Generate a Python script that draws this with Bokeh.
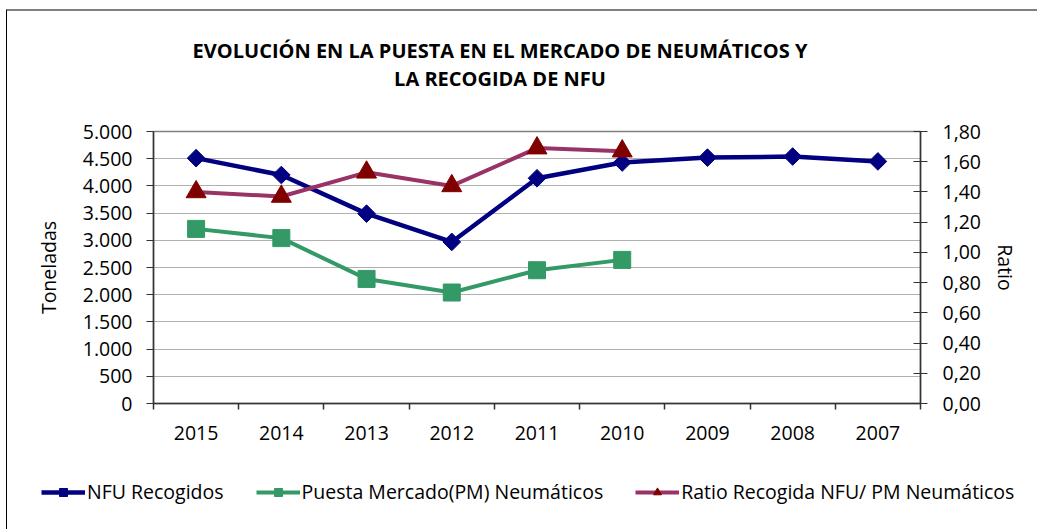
import math
from bokeh.plotting import figure
from bokeh.layouts import column
from bokeh.models import Range1d, LinearAxis, FixedTicker, Label, Legend, LegendItem
from bokeh.embed import file_html
from bokeh.resources import INLINE

# ---- data ----
years = ["2015", "2014", "2013", "2012", "2011", "2010", "2009", "2008", "2007"]
nfu_recogidos = [4510, 4200, 3490, 2970, 4140, 4430, 4520, 4540, 4450]
puesta_mercado = [3210, 3040, 2290, 2040, 2450, 2640]
ratio = [1.40, 1.37, 1.53, 1.44, 1.69, 1.67]

left_ticks = [0, 500, 1000, 1500, 2000, 2500, 3000, 3500, 4000, 4500, 5000]
left_tick_labels = ["0", "500", "1.000", "1.500", "2.000", "2.500", "3.000",
                    "3.500", "4.000", "4.500", "5.000"]
right_ticks = [0.0, 0.2, 0.4, 0.6, 0.8, 1.0, 1.2, 1.4, 1.6, 1.8]
right_tick_labels = ["0,00", "0,20", "0,40", "0,60", "0,80", "1,00", "1,20",
                     "1,40", "1,60", "1,80"]

title_lines = ["EVOLUCIÓN EN LA PUESTA EN EL MERCADO DE NEUMÁTICOS Y",
               "LA RECOGIDA DE NFU"]
series_names = ["NFU Recogidos", "Puesta Mercado(PM) Neumáticos",
                "Ratio Recogida NFU/ PM Neumáticos"]

FONT = "Open Sans"
TICK_SIZE = "19.5px"
W = 1030
BL, BR = 146, 117          # left / right borders of the chart frame
NAVY, GREEN, PLUM, DARKRED = "#000080", "#339966", "#993366", "#800000"

xs_all = list(range(len(years)))
xs_pm = xs_all[:len(puesta_mercado)]
xs_ratio = xs_all[:len(ratio)]

# ---------------- title strip (frame same as chart frame) ----------------
TH = 100
t = figure(width=W, height=TH, x_range=Range1d(BL, W - BR), y_range=Range1d(0, TH),
           output_backend="svg", toolbar_location=None,
           x_axis_location=None, y_axis_location=None,
           min_border_left=BL, min_border_right=BR, min_border_top=0, min_border_bottom=0)
t.grid.visible = False
t.outline_line_color = None
for txt, ty in zip(title_lines, [61, 33]):
    t.add_layout(Label(x=492.5, y=ty, text=txt, text_align="center",
                       text_baseline="middle", text_font=FONT,
                       text_font_style="bold", text_font_size="20px",
                       text_color="black"))

# ---------------- main chart ----------------
p = figure(width=W, height=344,
           x_range=Range1d(-0.5, len(years) - 0.5),
           y_range=Range1d(left_ticks[0], left_ticks[-1]),
           output_backend="svg", toolbar_location=None,
           min_border_left=BL, min_border_right=BR,
           min_border_top=20, min_border_bottom=52)
p.extra_y_ranges = {"ratio": Range1d(right_ticks[0], right_ticks[-1])}

p.outline_line_color = "#808080"
p.outline_line_width = 1.5
p.xgrid.visible = False
p.ygrid.grid_line_color = "#606060"
p.ygrid.grid_line_dash = "1 1"
p.ygrid.grid_line_width = 1

xa = p.xaxis[0]
xa.ticker = FixedTicker(ticks=xs_all, minor_ticks=[i - 0.5 for i in range(len(years) + 1)])
xa.major_label_overrides = {i: y for i, y in enumerate(years)}
xa.major_tick_line_color = None
xa.major_tick_out = 0
xa.major_tick_in = 0
xa.minor_tick_out = 6
xa.minor_tick_in = 0
xa.minor_tick_line_color = "#333333"
xa.minor_tick_line_width = 1.5
xa.axis_line_color = "#333333"
xa.axis_line_width = 1.5
xa.major_label_standoff = 16
xa.major_label_text_font = FONT
xa.major_label_text_font_size = TICK_SIZE
xa.major_label_text_color = "black"

ya = p.yaxis[0]
ya.ticker = FixedTicker(ticks=left_ticks, minor_ticks=[])
ya.major_label_overrides = dict(zip(left_ticks, left_tick_labels))
ya.major_tick_out = 7
ya.major_tick_in = 0
ya.major_tick_line_color = "#333333"
ya.major_tick_line_width = 1.2
ya.axis_line_color = "#333333"
ya.axis_line_width = 1.5
ya.major_label_standoff = 14
ya.major_label_text_font = FONT
ya.major_label_text_font_size = TICK_SIZE
ya.major_label_text_color = "black"
ya.axis_label = "Toneladas"
ya.axis_label_text_font = FONT
ya.axis_label_text_font_size = TICK_SIZE
ya.axis_label_text_font_style = "normal"
ya.axis_label_text_color = "black"
ya.axis_label_standoff = 18

ra = LinearAxis(y_range_name="ratio",
                ticker=FixedTicker(ticks=right_ticks, minor_ticks=[]),
                major_label_overrides=dict(zip(right_ticks, right_tick_labels)))
ra.major_tick_out = 7
ra.major_tick_in = 7
ra.major_tick_line_color = "#333333"
ra.major_tick_line_width = 1.2
ra.axis_line_color = "#333333"
ra.axis_line_width = 1.5
ra.major_label_standoff = 15
ra.major_label_text_font = FONT
ra.major_label_text_font_size = TICK_SIZE
ra.major_label_text_color = "black"
ra.axis_label = "Ratio"
ra.axis_label_text_font = FONT
ra.axis_label_text_font_size = TICK_SIZE
ra.axis_label_text_font_style = "normal"
ra.axis_label_text_color = "black"
ra.axis_label_standoff = 8
p.add_layout(ra, "right")

p.line(xs_all, nfu_recogidos, line_color=NAVY, line_width=4.5)
p.scatter(xs_all, nfu_recogidos, marker="square", angle=math.pi / 4, size=12.5,
          fill_color=NAVY, line_color=NAVY)
p.line(xs_pm, puesta_mercado, line_color=GREEN, line_width=4)
p.scatter(xs_pm, puesta_mercado, marker="square", size=17,
          fill_color=GREEN, line_color=GREEN)
p.line(xs_ratio, ratio, line_color=PLUM, line_width=4, y_range_name="ratio")
p.scatter(xs_ratio, ratio, marker="triangle", size=20,
          fill_color=DARKRED, line_color=DARKRED, y_range_name="ratio")

# ---------------- legend strip (series kept out of its view) ----------------
LH = 74
lf = figure(width=W, height=LH, x_range=Range1d(-1000, -999), y_range=Range1d(-1000, -999),
            output_backend="svg", toolbar_location=None,
            x_axis_location=None, y_axis_location=None, min_border=0)
try:
    lf.frame_align = False
except Exception:
    pass
lf.grid.visible = False
lf.outline_line_color = None
ll1 = lf.line(xs_all, nfu_recogidos, line_color=NAVY, line_width=4.5)
ls1 = lf.scatter(xs_all, nfu_recogidos, marker="square", angle=math.pi / 4, size=12.5,
                 fill_color=NAVY, line_color=NAVY)
ll2 = lf.line(xs_pm, puesta_mercado, line_color=GREEN, line_width=4)
ls2 = lf.scatter(xs_pm, puesta_mercado, marker="square", size=17,
                 fill_color=GREEN, line_color=GREEN)
ll3 = lf.line(xs_ratio, ratio, line_color=PLUM, line_width=4)
ls3 = lf.scatter(xs_ratio, ratio, marker="triangle", size=20,
                 fill_color=DARKRED, line_color=DARKRED)

legend = Legend(items=[LegendItem(label=series_names[0], renderers=[ll1, ls1]),
                       LegendItem(label=series_names[1], renderers=[ll2, ls2]),
                       LegendItem(label=series_names[2], renderers=[ll3, ls3])],
                orientation="horizontal", location=(34, 24),
                glyph_width=44, glyph_height=20, label_standoff=2, spacing=32,
                padding=0, margin=0, border_line_color=None,
                background_fill_alpha=0,
                label_text_font=FONT, label_text_font_size="19.5px",
                label_text_color="black")
lf.add_layout(legend)

layout = column(t, p, lf, spacing=0)
layout.styles = {"margin-left": "6px", "margin-top": "9px",
                 "border-left": "1.5px solid #000000",
                 "border-top": "2px solid #808080"}

open("out.html", "w").write(file_html(layout, INLINE))
